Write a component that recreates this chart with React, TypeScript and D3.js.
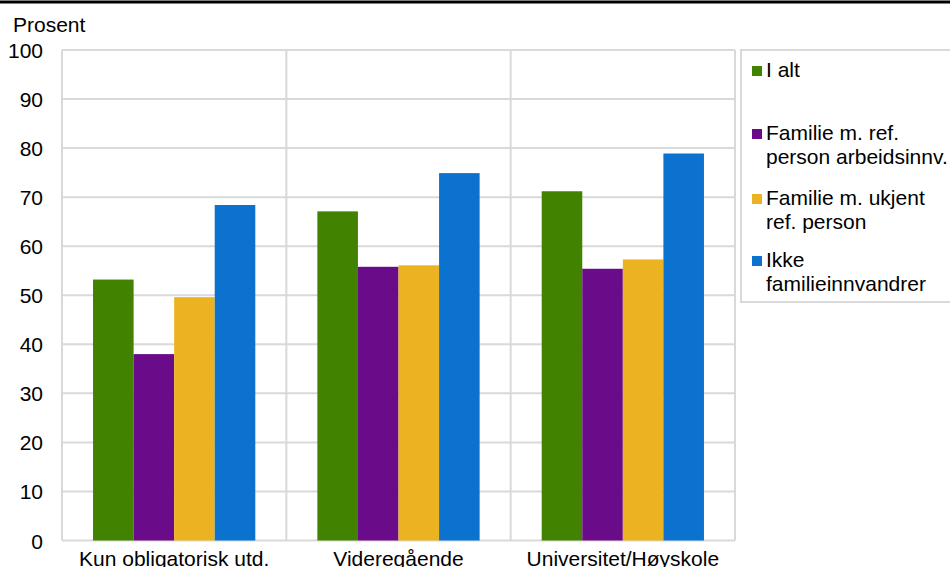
import React from "react";
import * as d3 from "d3";

const categories = ["Kun obligatorisk utd.", "Videregående", "Universitet/Høyskole"];
const seriesNames = ["I alt", "Familie m. ref. person arbeidsinnv.", "Familie m. ukjent ref. person", "Ikke familieinnvandrer"];
const legendLines = [["I alt"], ["Familie m. ref.", "person arbeidsinnv."], ["Familie m. ukjent", "ref. person"], ["Ikke", "familieinnvandrer"]];
const iAlt = [53.2, 67.1, 71.2];
const arbeidsinnv = [38.0, 55.8, 55.4];
const ukjent = [49.6, 56.1, 57.3];
const ikkeFamilie = [68.4, 74.9, 78.9];
const seriesValues = [iAlt, arbeidsinnv, ukjent, ikkeFamilie];
const colors = ["#418200", "#6a0b8a", "#ebb321", "#0b73cf"];
const yTicks = [0, 10, 20, 30, 40, 50, 60, 70, 80, 90, 100];

const W = 950, H = 567;
const left = 62, right = 735, top = 50, bottom = 540.5;
const font = "Liberation Sans, Arial, sans-serif";
const fs = 21;

export default function App() {
  const x0 = d3.scaleBand<string>().domain(categories).range([left, right]).paddingInner(0).paddingOuter(0);
  const x1 = d3.scaleBand<string>().domain(seriesNames).range([0, x0.bandwidth()]).paddingOuter(0.765).paddingInner(0);
  const y = d3.scaleLinear().domain([0, 100]).range([bottom, top]);
  const legendBase = [77, 140, 205, 267];
  return (
    <svg width={W} height={H} style={{ position: "absolute", left: 0, top: 0, background: "#fff" }} fontFamily={font}>
      <rect x={0} y={0} width={W} height={H} fill="#fff" />
      <line x1={0} x2={W} y1={2} y2={2} stroke="#000" strokeWidth={3} />
      <text x={13} y={32} fontSize={fs} fill="#000">Prosent</text>
      {yTicks.map((t) => (
        <g key={t}>
          <line x1={left} x2={right} y1={y(t)} y2={y(t)} stroke="#d9d9d9" strokeWidth={2} />
          <text x={43} y={y(t) + 8} fontSize={fs} textAnchor="end" fill="#000">{t}</text>
        </g>
      ))}
      {[...categories.map((c) => x0(c) as number), right].map((xv, i) => (
        <line key={i} x1={xv} x2={xv} y1={top} y2={bottom} stroke="#d9d9d9" strokeWidth={2} />
      ))}
      {categories.map((c, ci) => (
        <g key={c}>
          {seriesNames.map((s, si) => (
            <rect key={s}
              x={(x0(c) as number) + (x1(s) as number)}
              y={y(seriesValues[si][ci])}
              width={x1.bandwidth()}
              height={y(0) - y(seriesValues[si][ci])}
              fill={colors[si]} />
          ))}
          <text x={(x0(c) as number) + x0.bandwidth() / 2} y={566} fontSize={fs} textAnchor="middle" fill="#000">{c}</text>
        </g>
      ))}
      <rect x={741} y={50} width={230} height={252} fill="#fff" stroke="#d9d9d9" strokeWidth={2} />
      {legendLines.map((lines, i) => (
        <g key={i}>
          <rect x={752} y={legendBase[i] - 11} width={10} height={10} fill={colors[i]} />
          {lines.map((l, li) => (
            <text key={li} x={766} y={legendBase[i] + li * 24} fontSize={fs} fill="#000">{l}</text>
          ))}
        </g>
      ))}
    </svg>
  );
}
